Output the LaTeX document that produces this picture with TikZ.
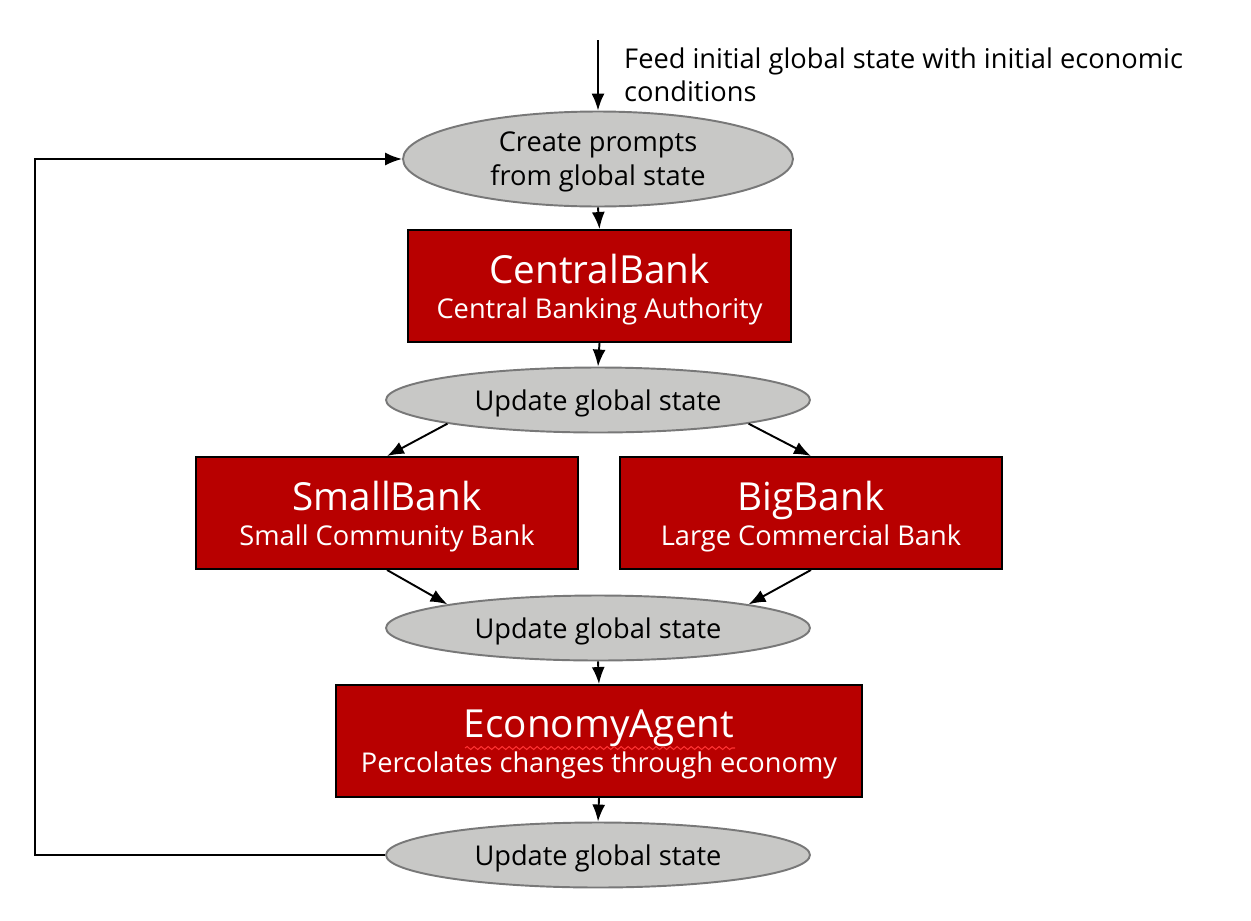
\documentclass[tikz,border=0pt]{standalone}
\usepackage{fontspec}
\setmainfont{Open Sans}
\usepackage{tikz}
\usetikzlibrary{shapes.geometric}
\usetikzlibrary{arrows.meta}
\usetikzlibrary{decorations.pathmorphing}

\definecolor{bankred}{RGB}{184,0,0}
\definecolor{stategray}{RGB}{200,200,198}
\definecolor{stateedge}{RGB}{120,120,120}

\tikzset{
    agentbox/.style={draw=black, line width=1.1pt, fill=bankred, text=white, inner sep=0pt, align=center, minimum height=2.24cm, text depth=0pt},
    statebubble/.style={ellipse, draw=stateedge, line width=1.1pt, fill=stategray, inner sep=0pt, align=center, text depth=0pt, font=\fontsize{15.5}{19.3}\selectfont},
    flow/.style={line width=1.1pt, -{Latex[length=3.4mm,width=2.6mm]}}
}
\newcommand{\agenttitle}[1]{{\fontsize{22}{22}\selectfont #1\vphantom{Ag}}}
\newcommand{\agentsub}{\fontsize{15.5}{16}\selectfont}

\begin{document}
\begin{tikzpicture}[x=0.02cm, y=-0.02cm]
                \useasboundingbox (0,0) rectangle (1251,920);

                % Initial input
                \coordinate (feed) at (598, 40);
                \node[anchor=west, align=left, font=\fontsize{15.5}{18.7}\selectfont] (feedtext) at (618, 75) {Feed initial global state with initial economic\\conditions};

                % State ellipses
                \node[statebubble, minimum width=7.8cm, minimum height=1.9cm] (prompt) at (598, 159) {Create prompts\\from global state};
                \node[statebubble, minimum width=8.48cm, minimum height=1.3cm] (upd1) at (598, 400) {Update global state};
                \node[statebubble, minimum width=8.48cm, minimum height=1.3cm] (upd2) at (598, 628) {Update global state};
                \node[statebubble, minimum width=8.48cm, minimum height=1.3cm] (upd3) at (598, 855) {Update global state};

                % Agents
                \node[agentbox, minimum width=7.66cm] (cb) at (599.5, 286) {\agenttitle{CentralBank}\\[2pt]\agentsub Central Banking Authority};
                \node[agentbox, minimum width=7.64cm] (small) at (387, 513) {\agenttitle{SmallBank}\\[2pt]\agentsub Small Community Bank};
                \node[agentbox, minimum width=7.64cm] (big) at (811, 513) {\agenttitle{BigBank}\\[2pt]\agentsub Large Commercial Bank};
                \node[agentbox, minimum width=10.52cm] (econ) at (599, 741) {\agenttitle{EconomyAgent}\\[2pt]\agentsub Percolates changes through economy};
                \draw[red!80!white, line width=0.6pt, decorate, decoration={snake, segment length=0.14cm, amplitude=0.03cm}] (465, 748) -- (735, 748);

                % Connectors
                \draw[flow] (feed) -- (prompt.north);
                \draw[flow] (prompt.south) -- (cb.north);
                \draw[flow] (cb.south) -- (upd1.north);
                \draw[flow] (upd1.south west) -- (small.north);
                \draw[flow] (upd1.south east) -- (big.north);
                \draw[flow] (small.south) -- (upd2.north west);
                \draw[flow] (big.south) -- (upd2.north east);
                \draw[flow] (upd2.south) -- (econ.north);
                \draw[flow] (econ.south) -- (upd3.north);

                % Loop back
                \coordinate (corner) at (35, 855);
                \draw[flow] (upd3.west) -- (corner) |- (prompt.west);
            \end{tikzpicture}
\end{document}
